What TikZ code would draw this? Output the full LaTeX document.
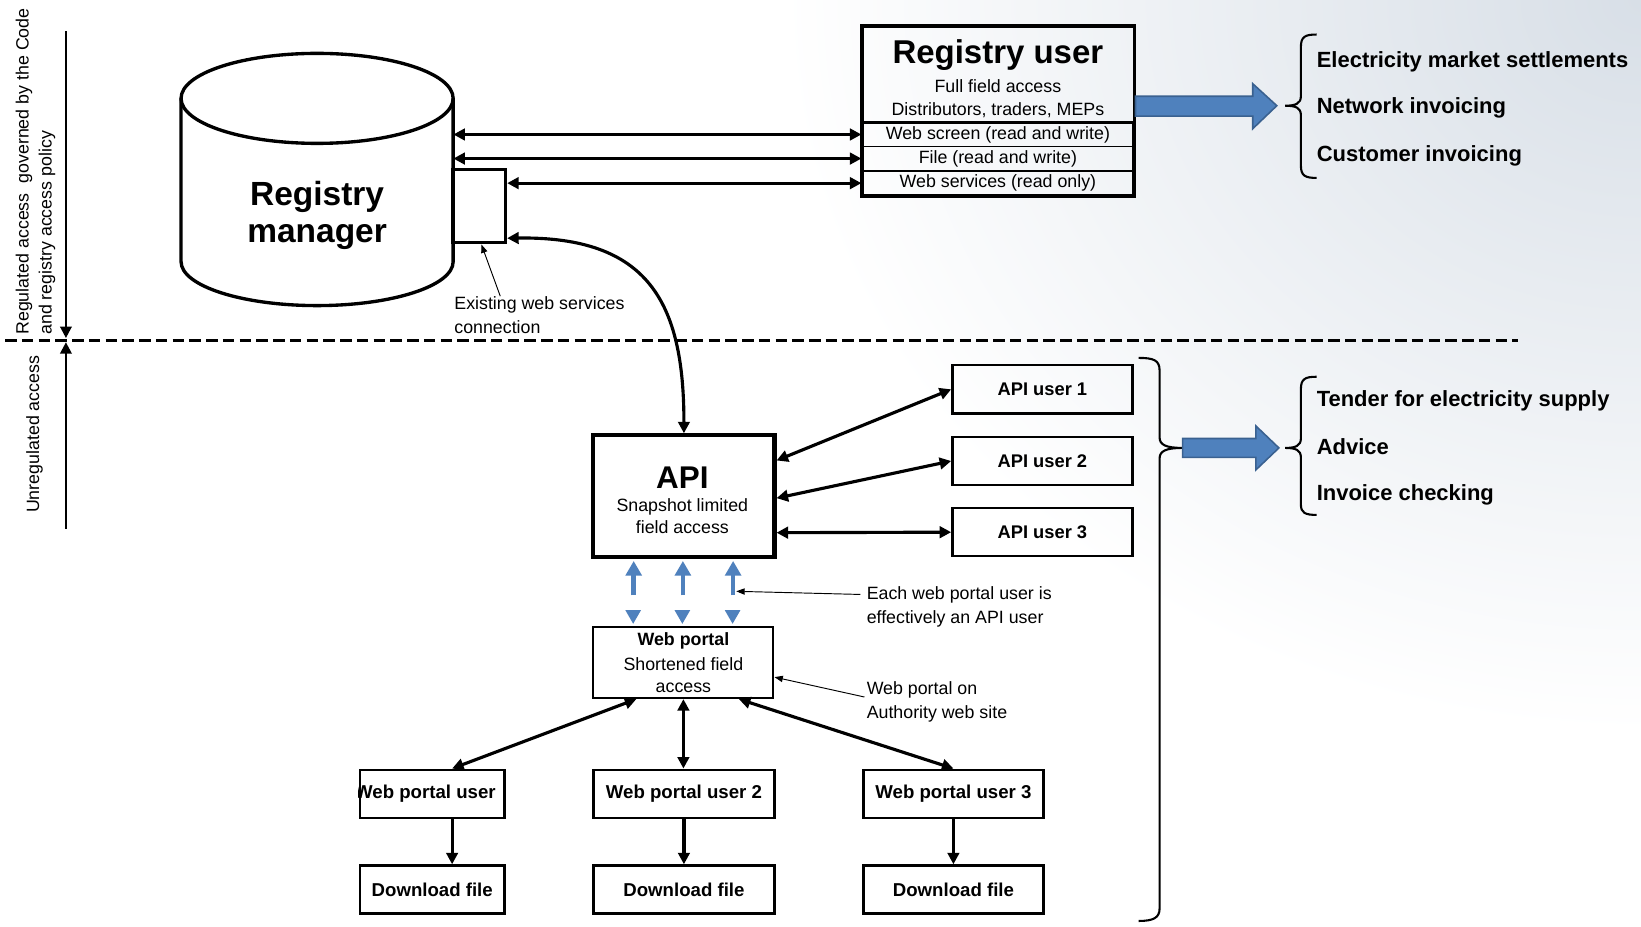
\documentclass[tikz,border=0pt]{standalone}
\usepackage{fontspec}
\setmainfont{Liberation Sans}
\usetikzlibrary{arrows.meta,calc}

\definecolor{bgtint}{HTML}{D8DFE7}
\definecolor{flowblue}{HTML}{4F81BD}
\definecolor{flowedge}{HTML}{3A6190}

\tikzset{
  dbl/.style={line width=3pt, {Triangle[length=11pt,width=11pt]}-{Triangle[length=11pt,width=11pt]}},
  one/.style={line width=3pt, -{Triangle[length=11pt,width=11pt]}},
  pointer/.style={line width=0.9pt, -{Triangle[length=8pt,width=6pt]}},
  boxed/.style={draw, line width=2.3pt, inner sep=0pt, minimum height=46pt},
  boldlabel/.style={font=\fontsize{17.5}{20}\selectfont\bfseries},
  plainlabel/.style={font=\fontsize{17}{20}\selectfont},
  note/.style={font=\fontsize{17}{23}\selectfont, align=left, inner sep=0pt, anchor=north west},
  usecase/.style={font=\fontsize{21}{24}\selectfont\bfseries, anchor=west, inner sep=0pt},
  bracket/.style={line width=2pt},
  bigarrow/.style={fill=flowblue, draw=flowedge, line width=1.5pt},
  row/.style={draw, line width=1.8pt, inner sep=0pt, minimum width=259pt, minimum height=23pt, plainlabel},
}

\begin{document}
\begin{tikzpicture}[x=1pt,y=-1pt]
\useasboundingbox (0,0) rectangle (1568,885);
% page background: white with a cool grey glow from the top right corner
\fill[white] (0,0) rectangle (1568,885);
\begin{scope}
  \clip (0,0) rectangle (1568,885);
  \shade[inner color=bgtint, outer color=white] (1568,0) ellipse[x radius=820, y radius=700];
\end{scope}

% ---------- access zones ----------
\node[rotate=90, anchor=west, plainlabel, inner sep=0pt] (zoneA) at (23,320) {Regulated access\ \ governed by the Code};
\node[rotate=90, anchor=west, plainlabel, inner sep=0pt] (zoneB) at (45,320) {and registry access policy};
\node[rotate=90, plainlabel, inner sep=0pt] (zoneC) at (33,415) {Unregulated access};
\coordinate (regtop) at (63,30);
\coordinate (regend) at (63,323);
\coordinate (unregbot) at (63,505);
\coordinate (unregend) at (63,327);
\draw[one, line width=2.2pt] (regtop) -- (regend);
\draw[one, line width=2.2pt] (unregbot) -- (unregend);
\coordinate (divL) at (5,325);
\coordinate (divR) at (1450,325);
\draw[line width=3pt, dash pattern=on 11pt off 5pt] (divL) -- (divR);

% ---------- registry manager (database) ----------
\node[inner sep=0pt, minimum width=260pt, minimum height=240pt] (rmbody) at (303,172) {};
\draw[line width=3.2pt] (173,94) -- (173,250) arc[start angle=180, end angle=0, x radius=130, y radius=42] -- (433,94);
\draw[line width=3.2pt] (303,94) ellipse[x radius=130, y radius=43];
\node[font=\fontsize{32}{35}\selectfont\bfseries, align=center] (rm) at (303,206) {Registry\\manager};
\node[draw, line width=3.2pt, inner sep=0pt, minimum width=50pt, minimum height=70pt] (ws) at (458,197) {};

% ---------- registry user ----------
\node[inner sep=0pt, minimum width=259pt, minimum height=92pt] (ru) at (953.5,71) {};
\node[font=\fontsize{31.5}{34}\selectfont\bfseries] (rutitle) at (953.5,53) {Registry user};
\node[plainlabel] (rufull) at (953.5,82) {Full field access};
\node[plainlabel] (rumembers) at (953.5,105) {Distributors, traders, MEPs};
\node[row] (rscreen) at (953.5,128.5) {Web screen (read and write)};
\node[row] (rfile) at (953.5,151.5) {File (read and write)};
\node[row] (rws) at (953.5,175) {Web services (read only)};
\draw[line width=3.5pt] (ru.north west) rectangle (rws.south east);
\draw[line width=3pt] (ru.south west) -- (ru.south east);

\draw[dbl] (rscreen.west -| rmbody.east) -- (rscreen.west);
\draw[dbl] (rfile.west -| rmbody.east) -- (rfile.west);
\draw[dbl] (rws.west -| ws.east) -- (rws.west);

\node[note] (exnote) at (434,283) {Existing web services\\connection};
\draw[pointer] ([xshift=44pt]exnote.north west) -- ([xshift=2pt]ws.south);

% ---------- regulated uses ----------
\filldraw[bigarrow] (1085,92) -- (1197,92) -- (1197,80) -- (1220,101) -- (1197,123) -- (1197,111) -- (1085,111) -- cycle;
\draw[bracket] (1258,33) .. controls (1247,33) and (1243,35) .. (1243,45) -- (1243,92)
  .. controls (1243,99) and (1238,101) .. (1228,101) .. controls (1238,101) and (1243,103) .. (1243,110)
  -- (1243,158) .. controls (1243,168) and (1247,170) .. (1258,170);
\node[usecase] (uc1) at (1258,59) {Electricity market settlements};
\node[usecase] (uc2) at (1258,103) {Network invoicing};
\node[usecase] (uc3) at (1258,149) {Customer invoicing};

% ---------- API ----------
\node[draw, line width=4pt, inner sep=0pt, minimum width=173pt, minimum height=116pt] (api) at (653.5,474) {};
\node[font=\fontsize{30}{32}\selectfont\bfseries] (apititle) at (652,456) {API};
\node[plainlabel] (apisub1) at (652,484) {Snapshot limited};
\node[plainlabel] (apisub2) at (652,504) {field access};

\draw[dbl] ([yshift=6pt]ws.south east) .. controls +(135,-2) and +(0,-125) .. (api.north);

\node[boxed, boldlabel, minimum width=172pt] (au1) at (996,372) {API user 1};
\node[boxed, boldlabel, minimum width=172pt] (au2) at (996,440.5) {API user 2};
\node[boxed, boldlabel, minimum width=172pt] (au3) at (996,508.5) {API user 3};
\draw[dbl] ([yshift=34pt]api.east) -- (au1.west);
\draw[dbl] ([yshift=-2pt]api.east) -- (au2.west);
\draw[dbl] ([yshift=-35pt]api.east) -- (au3.west);

% ---------- web portal ----------
\node[draw, line width=2pt, inner sep=0pt, minimum width=172pt, minimum height=68pt] (wp) at (653,633) {};
\node[font=\fontsize{17}{20}\selectfont\bfseries] (wptitle) at (653,612) {Web portal};
\node[plainlabel] (wpsub1) at (653,635) {Shortened field};
\node[plainlabel] (wpsub2) at (653,657) {access};

\foreach \dx in {-48,-1,47} {
  \draw[flowblue, line width=4.5pt, -{Triangle[length=14pt,width=15pt]}]
    ([xshift=\dx pt, yshift=-35pt]api.south) -- ([xshift=\dx pt, yshift=-2pt]api.south);
  \fill[flowblue] ([xshift={\dx pt-7.5pt}, yshift=15pt]wp.north) -- ([xshift={\dx pt+7.5pt}, yshift=15pt]wp.north)
    -- ([xshift=\dx pt, yshift=2pt]wp.north) -- cycle;
}

\node[note] (epnote) at (828,560) {Each web portal user is\\effectively an API user};
\draw[pointer] ([xshift=-6pt, yshift=-8pt]epnote.north west) -- ([xshift=50pt, yshift=-31pt]api.south);
\node[note] (wpnote) at (828,651) {Web portal on\\Authority web site};
\draw[pointer] ([xshift=-2pt, yshift=-15pt]wpnote.north west) -- ([yshift=-14pt]wp.east);

% ---------- web portal users ----------
\node[boxed, minimum width=138pt] (wpu1) at (413,758.5) {};
\begin{scope}
  \clip (wpu1.north west) rectangle (wpu1.south east);
  \node[font=\fontsize{17.8}{20}\selectfont\bfseries] (wpu1text) at ([xshift=-6.5pt]wpu1.center) {Web portal user};
\end{scope}
\node[boxed, minimum width=173pt, font=\fontsize{17.8}{20}\selectfont\bfseries] (wpu2) at (653.5,758.5) {Web portal user 2};
\node[boxed, minimum width=172pt, font=\fontsize{17.8}{20}\selectfont\bfseries] (wpu3) at (911,758.5) {Web portal user 3};

\node[boxed, minimum width=138pt, font=\fontsize{17.8}{20}\selectfont\bfseries] (df1) at (413,850) {Download file};
\node[boxed, minimum width=173pt, font=\fontsize{17.8}{20}\selectfont\bfseries] (df2) at (653.5,850) {Download file};
\node[boxed, minimum width=172pt, font=\fontsize{17.8}{20}\selectfont\bfseries] (df3) at (911,850) {Download file};

\draw[dbl] ([xshift=-45pt]wp.south) -- ([xshift=19pt]wpu1.north);
\draw[dbl] (wp.south) -- (wp.south |- wpu2.north);
\draw[dbl] ([xshift=53pt]wp.south) -- (wpu3.north);
\draw[one] ([xshift=19pt]wpu1.south) -- ([xshift=19pt]df1.north);
\draw[one] (wpu2.south) -- (df2.north);
\draw[one] (wpu3.south) -- (df3.north);

% ---------- unregulated uses ----------
\draw[bracket] (1088,342) .. controls (1102,342) and (1108,344) .. (1108,354) -- (1108,418)
  .. controls (1108,425) and (1114,428) .. (1130,428) .. controls (1114,428) and (1108,431) .. (1108,438)
  -- (1108,868) .. controls (1108,877) and (1102,880) .. (1088,880);
\filldraw[bigarrow] (1130,419) -- (1200,419) -- (1200,407) -- (1222,428) -- (1200,449) -- (1200,437) -- (1130,437) -- cycle;
\draw[bracket] (1258,360) .. controls (1247,360) and (1243,362) .. (1243,372) -- (1243,419)
  .. controls (1243,426) and (1238,428) .. (1228,428) .. controls (1238,428) and (1243,430) .. (1243,437)
  -- (1243,482) .. controls (1243,490) and (1247,492) .. (1258,492);
\node[usecase] (uc4) at (1258,383) {Tender for electricity supply};
\node[usecase] (uc5) at (1258,427) {Advice};
\node[usecase] (uc6) at (1258,473) {Invoice checking};
\end{tikzpicture}
\end{document}
